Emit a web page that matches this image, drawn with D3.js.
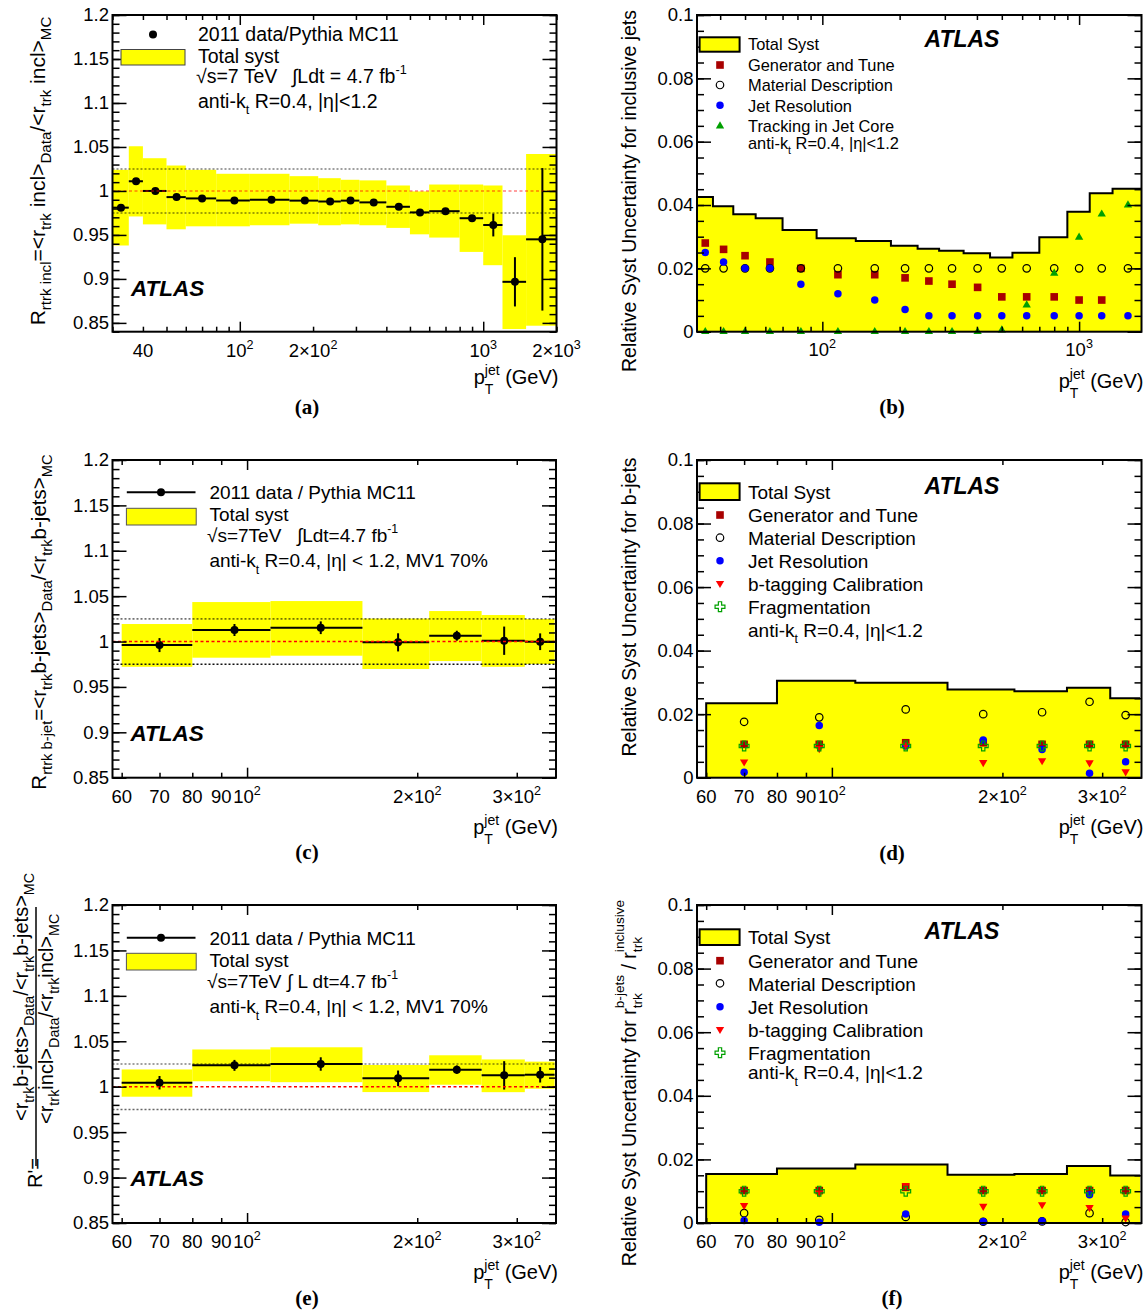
<!DOCTYPE html>
<html><head><meta charset="utf-8">
<script src="https://cdn.jsdelivr.net/npm/d3@7"></script>
<style>
body{margin:0;background:#fff;}
svg{display:block;}
text{white-space:pre;}
</style></head><body>
<svg id="c" width="1148" height="1314"></svg>
<script>
// ---------------- DATA ----------------
// Panel (a): inclusive jets ratio
const edgesA = [30,35,40,50,60,80,110,160,210,260,310,400,500,600,800,1000,1200,1500,2000];
const ptA = [32.5,37.5,45,55,70,95,135,185,235,285,355,450,550,700,900,1100,1350,1750];
const ratioA = [0.981,1.011,1.000,0.993,0.9915,0.989,0.990,0.989,0.988,0.989,0.987,0.982,0.9756,0.977,0.969,0.9613,0.8967,0.945];
const statA = [0.002,0.002,0.002,0.001,0.001,0.001,0.001,0.001,0.001,0.001,0.001,0.002,0.002,0.002,0.003,0.013,0.028,0.081];
const bandLoA = [0.938,0.971,0.962,0.9564,0.9598,0.9598,0.961,0.9628,0.961,0.962,0.961,0.958,0.9507,0.947,0.9307,0.9156,0.843,0.8468];
const bandHiA = [1.024,1.0508,1.0372,1.0289,1.024,1.0195,1.0195,1.0168,1.0145,1.0127,1.012,1.0062,0.9995,1.0073,1.0073,1.0062,0.9496,1.042];

// Panel (b): syst. for inclusive jets
const edgesB = [32.5,37.5,45,55,70,95,135,185,235,285,355,450,550,700,900,1100,1350,1750];
const ptB = [35,41.25,50,62.5,82.5,115,160,210,260,320,402.5,500,625,800,1000,1225,1550];
const totalB = [0.0425,0.0396,0.0371,0.0358,0.0321,0.0295,0.0286,0.0271,0.0262,0.0256,0.0248,0.0234,0.0249,0.0298,0.0379,0.0437,0.0451];
const genTuneB = [0.028,0.026,0.024,0.022,0.020,0.018,0.018,0.017,0.016,0.015,0.014,0.011,0.011,0.011,0.010,0.010,null];
const materialB = [0.02,0.02,0.02,0.02,0.02,0.02,0.02,0.02,0.02,0.02,0.02,0.02,0.02,0.02,0.02,0.02,0.02];
const jetResB = [0.025,0.022,0.020,0.020,0.015,0.012,0.010,0.007,0.005,0.005,0.005,0.005,0.005,0.005,0.005,0.005,0.005];
const trackCoreB = [0,0,0,0,0,0,0,0,0,0,0,0.0005,0.0084,0.0184,0.0298,0.0371,0.040];

// Panels (c)-(f): b-jets
const edgesBJ = [60,80,110,160,210,260,310,350];
const ptBJ = [70,95,135,185,235,285,330];

const ratioC = [0.9961,1.0127,1.0152,0.9991,1.0064,1.0009,0.9998];
const statC = [0.0077,0.0066,0.007,0.010,0.0055,0.0156,0.0092];
const bandLoC = [0.9722,0.9822,0.9844,0.9697,0.9785,0.9722,0.9752];
const bandHiC = [1.0193,1.0435,1.0446,1.0253,1.0336,1.0292,1.0248];

const totalD = [0.0234,0.0305,0.0299,0.0278,0.0272,0.0283,0.025];
const genTuneD = [0.0105,0.0105,0.011,0.011,0.0105,0.0105,0.0105];
const materialD = [0.0176,0.019,0.0215,0.020,0.0206,0.0239,0.0197];
const jetResD = [0.0017,0.0164,0.010,0.0119,0.0089,0.0014,0.005];
const bTagD = [0.005,0.0092,0.0103,0.0048,0.0054,0.0047,0.0019];
const fragD = [0.010,0.010,0.010,0.010,0.010,0.010,0.010];

const ratioE = [1.0044,1.0235,1.025,1.0092,1.0188,1.0125,1.0132];
const statE = [0.0074,0.006,0.0074,0.0086,0.0046,0.0156,0.0086];
const bandLoE = [0.989,1.006,1.005,0.9941,1.0022,0.994,0.9978];
const bandHiE = [1.019,1.041,1.0434,1.0239,1.0346,1.030,1.0276];

const totalF = [0.0154,0.0171,0.0184,0.0152,0.0154,0.0179,0.0149];
const genTuneF = [0.0102,0.0102,0.0112,0.0102,0.0102,0.0102,0.0102];
const materialF = [0.0031,0.001,0.0019,0.0004,0.0005,0.0031,0.0003];
const jetResF = [0.0008,0.0002,0.0028,0.0005,0.0006,0.0089,0.0028];
const bTagF = [0.0055,0.0095,0.0118,0.0053,0.0058,0.0049,0.0016];
const fragF = [0.010,0.010,0.010,0.010,0.010,0.010,0.010];

// Tick labels
const yTicksRatio = [0.85,0.9,0.95,1,1.05,1.1,1.15,1.2];
const yLabelsRatio = ["0.85","0.9","0.95","1","1.05","1.1","1.15","1.2"];
const yTicksSyst = [0,0.02,0.04,0.06,0.08,0.1];
const yLabelsSyst = ["0","0.02","0.04","0.06","0.08","0.1"];
const xTicksA = [40,100,200,1000,2000];
const xLabelsA = [["40"],["10",{sup:"2"}],["2×10",{sup:"2"}],["10",{sup:"3"}],["2×10",{sup:"3"}]];
const xTicksB = [100,1000];
const xLabelsB = [["10",{sup:"2"}],["10",{sup:"3"}]];
const xTicksBJ = [60,70,80,90,100,200,300];
const xLabelsBJ = [["60"],["70"],["80"],["90"],["10",{sup:"2"}],["2×10",{sup:"2"}],["3×10",{sup:"2"}]];

// ---------------- DRAWING ----------------
const FONT = '"Liberation Sans", Arial, Helvetica, sans-serif';
const SERIF = '"Liberation Serif", "Times New Roman", serif';
const YEL = '#ffff00';
const svg = d3.select('#c');
svg.append('rect').attr('width',1148).attr('height',1314).attr('fill','#fff');

function rich(parent, segs, o) {
  const size = o.size, ss = o.subScale || 0.7;
  const outer = parent.append('g').attr('transform', `translate(${o.x},${o.y})` + (o.rotate ? ` rotate(${o.rotate})` : ''));
  const inner = outer.append('g');
  let x = 0;
  const mk = (txt, xx, yy, fs) => inner.append('text').attr('x', xx).attr('y', yy)
      .attr('font-size', fs).attr('font-family', o.family || FONT)
      .attr('font-weight', o.weight || null).attr('font-style', o.style || null)
      .attr('fill', o.fill || '#000').text(txt);
  segs.forEach(s => {
    if (typeof s === 'string') { const t = mk(s, x, 0, size); x += t.node().getComputedTextLength(); }
    else {
      let w = 0;
      if (s.sup != null) { const t = mk(s.sup, x, -size*(o.supShift||0.45), size*ss); w = Math.max(w, t.node().getComputedTextLength()); }
      if (s.sub != null) { const t = mk(s.sub, x, size*(o.subShift||0.3), size*ss); w = Math.max(w, t.node().getComputedTextLength()); }
      x += w + (o.gap || 0);
    }
  });
  const dx = o.anchor === 'middle' ? -x/2 : o.anchor === 'end' ? -x : 0;
  inner.attr('transform', `translate(${dx},0)`);
  return x;
}

const symGen = d3.symbol().type(d3.symbolSquare).size(58);
const symCirc = d3.symbol().type(d3.symbolCircle).size(44);
const symTri = d3.symbol().type(d3.symbolTriangle).size(30);
const symCross = d3.symbol().type(d3.symbolCross).size(54);
const MK = {
  gen:   (g,cx,cy) => g.append('path').attr('d', symGen()).attr('transform',`translate(${cx},${cy})`).attr('fill','#a80000'),
  mat:   (g,cx,cy) => g.append('path').attr('d', symCirc()).attr('transform',`translate(${cx},${cy})`).attr('fill','none').attr('stroke','#000').attr('stroke-width',1.2),
  jet:   (g,cx,cy) => g.append('path').attr('d', symCirc()).attr('transform',`translate(${cx},${cy})`).attr('fill','#0000ff'),
  track: (g,cx,cy) => g.append('path').attr('d', symTri()).attr('transform',`translate(${cx},${cy})`).attr('fill','#00a000'),
  btag:  (g,cx,cy) => g.append('path').attr('d', symTri()).attr('transform',`translate(${cx},${cy}) rotate(180)`).attr('fill','#ff0000'),
  frag:  (g,cx,cy) => g.append('path').attr('d', symCross()).attr('transform',`translate(${cx},${cy})`).attr('fill','none').attr('stroke','#00a000').attr('stroke-width',1.2),
};

function makePanel(P) {
  const g = svg.append('g');
  const x = d3.scaleLog().domain(P.xDomain).range([P.x0, P.x1]);
  const y = d3.scaleLinear().domain(P.yDomain).range([P.y1, P.y0]);
  P.draw(g, x, y);

  // ticks
  const allX = x.ticks();
  const isMaj = v => Math.abs(Math.log10(v) - Math.round(Math.log10(v))) < 1e-9;
  const majX = allX.filter(isMaj), minX = allX.filter(v => !isMaj(v));
  const tk = g.append('g');
  const addAx = (axis, tr) => { const a = tk.append('g').attr('transform', tr).call(axis); a.select('.domain').remove(); a.selectAll('line').attr('stroke','#000').attr('stroke-width',1.5); };
  addAx(d3.axisBottom(x).tickValues(majX).tickSize(-10).tickFormat(''), `translate(0,${P.y1})`);
  addAx(d3.axisBottom(x).tickValues(minX).tickSize(-5).tickFormat(''), `translate(0,${P.y1})`);
  addAx(d3.axisTop(x).tickValues(majX).tickSize(-10).tickFormat(''), `translate(0,${P.y0})`);
  addAx(d3.axisTop(x).tickValues(minX).tickSize(-5).tickFormat(''), `translate(0,${P.y0})`);
  addAx(d3.axisLeft(y).tickValues(P.yMajor).tickSize(-14).tickFormat(''), `translate(${P.x0},0)`);
  addAx(d3.axisLeft(y).tickValues(P.yMinor).tickSize(-7).tickFormat(''), `translate(${P.x0},0)`);
  addAx(d3.axisRight(y).tickValues(P.yMajor).tickSize(-14).tickFormat(''), `translate(${P.x1},0)`);
  addAx(d3.axisRight(y).tickValues(P.yMinor).tickSize(-7).tickFormat(''), `translate(${P.x1},0)`);
  // y labels
  const yl = g.append('g').attr('transform',`translate(${P.x0},0)`)
    .call(d3.axisLeft(y).tickValues(P.yMajor).tickSize(0).tickPadding(3.5).tickFormat((d,i)=>P.yLabels[i]));
  yl.select('.domain').remove();
  yl.attr('font-family', FONT).attr('font-size', 18.5);
  yl.selectAll('text').attr('fill','#000');
  // x labels
  P.xTicks.forEach((v,i) => rich(g, P.xLabels[i], {x: x(v), y: P.xLabY, size: 18.5, anchor:'middle', supShift:0.45, subScale:0.68}));
  // frame
  g.append('rect').attr('x',P.x0).attr('y',P.y0).attr('width',P.x1-P.x0).attr('height',P.y1-P.y0)
    .attr('fill','none').attr('stroke','#000').attr('stroke-width',2);
  // x title
  rich(g, ["p",{sub:"T",sup:"jet"}," (GeV)"], {x: P.x1+2, y: P.xTitY, size: 20, anchor:'end', subShift:0.5, supShift:0.45, subScale:0.7});
  // panel label
  g.append('text').attr('x', P.labX).attr('y', P.labY).attr('text-anchor','middle')
    .attr('font-family', SERIF).attr('font-weight','bold').attr('font-size',21).text(P.label);
  return {g, x, y};
}

function ratioDraw(edges, pts, ratio, stat, lo, hi, redOpacity, upperCol, lowerCol) {
  return (g, x, y) => {
    g.append('g').selectAll('rect').data(ratio).join('rect')
      .attr('x', (d,i) => x(edges[i])).attr('width', (d,i) => x(edges[i+1]) - x(edges[i]))
      .attr('y', (d,i) => y(hi[i])).attr('height', (d,i) => y(lo[i]) - y(hi[i])).attr('fill', YEL);
    const xr = x.range();
    g.append('line').attr('x1', xr[0]).attr('x2', xr[1]).attr('y1', y(1.025)).attr('y2', y(1.025))
      .attr('stroke', upperCol).attr('stroke-width',1.6).attr('stroke-dasharray','2,2');
    g.append('line').attr('x1', xr[0]).attr('x2', xr[1]).attr('y1', y(0.975)).attr('y2', y(0.975))
      .attr('stroke', lowerCol).attr('stroke-width',1.6).attr('stroke-dasharray','2,2');
    const pg = g.append('g');
    ratio.forEach((r,i) => {
      pg.append('line').attr('x1', x(edges[i])).attr('x2', x(edges[i+1])).attr('y1', y(r)).attr('y2', y(r)).attr('stroke','#000').attr('stroke-width',2);
      pg.append('line').attr('x1', x(pts[i])).attr('x2', x(pts[i])).attr('y1', y(r-stat[i])).attr('y2', y(r+stat[i])).attr('stroke','#000').attr('stroke-width',2);
      pg.append('circle').attr('cx', x(pts[i])).attr('cy', y(r)).attr('r', 4).attr('fill','#000');
    });
    g.append('line').attr('x1', xr[0]).attr('x2', xr[1]).attr('y1', y(1)).attr('y2', y(1))
      .attr('stroke', '#ff0000').attr('stroke-opacity', redOpacity).attr('stroke-width',1.6).attr('stroke-dasharray','3,2.5');
  };
}

function systDraw(edges, pts, total, series) {
  return (g, x, y) => {
    const n = total.length;
    const hd = edges.map((e,i) => ({e, v: total[Math.min(i, n-1)]}));
    g.append('path').datum(hd).attr('fill', YEL)
      .attr('d', d3.area().x(d=>x(d.e)).y0(y(0)).y1(d=>y(d.v)).curve(d3.curveStepAfter));
    const ld = [{e: edges[0], v: 0}].concat(hd);
    g.append('path').datum(ld).attr('fill','none').attr('stroke','#000').attr('stroke-width',2)
      .attr('d', d3.line().x(d=>x(d.e)).y(d=>y(d.v)).curve(d3.curveStepAfter));
    series.forEach(([key, vals]) => {
      vals.forEach((v,i) => { if (v != null) MK[key](g, x(pts[i]), y(v)); });
    });
  };
}

const ratioMinor = d3.range(85, 121).map(v => v/100);
const ratioMinorA = d3.range(84, 121).map(v => v/100);
const systMinor = d3.range(0, 21).map(v => v*0.005);

// ---- Panel (a)
makePanel({x0:112.5, x1:556.5, y0:15, y1:331.7, xDomain:[30,2000], yDomain:[0.84,1.2],
  yMajor: yTicksRatio, yLabels: yLabelsRatio, yMinor: ratioMinorA,
  xTicks: xTicksA, xLabels: xLabelsA, xLabY: 357, xTitY: 384, label:'(a)', labX:307, labY:414,
  draw: ratioDraw(edgesA, ptA, ratioA, statA, bandLoA, bandHiA, 0.5, 'rgba(0,0,0,0.5)', 'rgba(0,0,0,0.5)')});
// ---- Panel (b)
makePanel({x0:697, x1:1141.5, y0:15, y1:331.7, xDomain:[32.5,1750], yDomain:[0,0.1],
  yMajor: yTicksSyst, yLabels: yLabelsSyst, yMinor: systMinor,
  xTicks: xTicksB, xLabels: xLabelsB, xLabY: 356, xTitY: 388, label:'(b)', labX:892, labY:414,
  draw: systDraw(edgesB, ptB, totalB, [['gen',genTuneB],['mat',materialB],['jet',jetResB],['track',trackCoreB]])});
// ---- Panel (c)
makePanel({x0:112.5, x1:556, y0:460, y1:777.7, xDomain:[57.8,352], yDomain:[0.85,1.2],
  yMajor: yTicksRatio, yLabels: yLabelsRatio, yMinor: ratioMinor,
  xTicks: xTicksBJ, xLabels: xLabelsBJ, xLabY: 803, xTitY: 834, label:'(c)', labX:307, labY:859,
  draw: ratioDraw(edgesBJ, ptBJ, ratioC, statC, bandLoC, bandHiC, 1, 'rgba(0,0,0,0.55)', '#111')});
// ---- Panel (d)
makePanel({x0:697, x1:1141.5, y0:460, y1:777.7, xDomain:[57.8,352], yDomain:[0,0.1],
  yMajor: yTicksSyst, yLabels: yLabelsSyst, yMinor: systMinor,
  xTicks: xTicksBJ, xLabels: xLabelsBJ, xLabY: 803, xTitY: 834, label:'(d)', labX:892, labY:860,
  draw: systDraw(edgesBJ, ptBJ, totalD, [['gen',genTuneD],['mat',materialD],['jet',jetResD],['btag',bTagD],['frag',fragD]])});
// ---- Panel (e)
makePanel({x0:112.5, x1:556, y0:905, y1:1223, xDomain:[57.8,352], yDomain:[0.85,1.2],
  yMajor: yTicksRatio, yLabels: yLabelsRatio, yMinor: ratioMinor,
  xTicks: xTicksBJ, xLabels: xLabelsBJ, xLabY: 1248, xTitY: 1279, label:'(e)', labX:307, labY:1305,
  draw: ratioDraw(edgesBJ, ptBJ, ratioE, statE, bandLoE, bandHiE, 1, 'rgba(0,0,0,0.5)', 'rgba(0,0,0,0.6)')});
// ---- Panel (f)
makePanel({x0:697, x1:1141.5, y0:905, y1:1223, xDomain:[57.8,352], yDomain:[0,0.1],
  yMajor: yTicksSyst, yLabels: yLabelsSyst, yMinor: systMinor,
  xTicks: xTicksBJ, xLabels: xLabelsBJ, xLabY: 1248, xTitY: 1279, label:'(f)', labX:892, labY:1305,
  draw: systDraw(edgesBJ, ptBJ, totalF, [['gen',genTuneF],['mat',materialF],['jet',jetResF],['btag',bTagF],['frag',fragF]])});

// ---------------- LEGENDS & LABELS ----------------
const L = svg.append('g');
function txt(x, y, s, size, extra) {
  const t = L.append('text').attr('x', x).attr('y', y).attr('font-family', FONT).attr('font-size', size).text(s);
  if (extra) extra(t);
  return t;
}
const atlas = (x, y, size) => txt(x, y, 'ATLAS', size, t => t.attr('font-weight','bold').attr('font-style','italic'));
const antik = (x, y, size, rest) => rich(L, ["anti-k",{sub:"t"}, rest], {x, y, size, subShift:0.35, subScale:0.65});

// (a)
L.append('circle').attr('cx',153).attr('cy',34.5).attr('r',4).attr('fill','#000');
txt(198, 41, '2011 data/Pythia MC11', 19.5);
L.append('rect').attr('x',121).attr('y',49.5).attr('width',64).attr('height',15.5).attr('fill',YEL).attr('stroke','#444').attr('stroke-width',1);
txt(198, 62.5, 'Total syst', 19.5);
txt(196, 83, '√s=7 TeV', 19.5);
rich(L, ["∫Ldt = 4.7 fb",{sup:"-1"}], {x:292, y:83, size:19.5, supShift:0.45, subScale:0.65});
antik(198, 107.5, 19.5, " R=0.4, |η|<1.2");
atlas(131, 296, 22.5);

// (b)
L.append('rect').attr('x',699.6).attr('y',37.3).attr('width',40).attr('height',14.4).attr('fill',YEL).attr('stroke','#000').attr('stroke-width',2);
txt(748, 49.5, 'Total Syst', 16.4);
MK.gen(L, 720, 65); txt(748, 71, 'Generator and Tune', 16.4);
MK.mat(L, 720, 85); txt(748, 91, 'Material Description', 16.4);
MK.jet(L, 720, 105.3); txt(748, 111.5, 'Jet Resolution', 16.4);
MK.track(L, 720, 126); txt(748, 132, 'Tracking in Jet Core', 16.4);
antik(748, 148.5, 16.4, " R=0.4, |η|<1.2");
atlas(924.5, 47, 23);

// (c)
L.append('line').attr('x1',126.8).attr('x2',195.5).attr('y1',492.3).attr('y2',492.3).attr('stroke','#000').attr('stroke-width',2);
L.append('circle').attr('cx',161).attr('cy',492.3).attr('r',4).attr('fill','#000');
txt(209.4, 499, '2011 data / Pythia MC11', 19);
L.append('rect').attr('x',126.4).attr('y',508.3).attr('width',69.8).attr('height',16.7).attr('fill',YEL).attr('stroke','#555').attr('stroke-width',1);
txt(209.4, 521, 'Total syst', 19);
txt(207, 541.5, '√s=7TeV', 19);
rich(L, ["∫Ldt=4.7 fb",{sup:"-1"}], {x:297, y:541.5, size:19, supShift:0.45, subScale:0.65});
antik(209.4, 567, 19, " R=0.4, |η| < 1.2, MV1 70%");
atlas(130.5, 741, 22.5);

// (d)
L.append('rect').attr('x',699.6).attr('y',483.3).attr('width',40).attr('height',16.7).attr('fill',YEL).attr('stroke','#000').attr('stroke-width',2);
txt(748, 499, 'Total Syst', 19);
MK.gen(L, 720, 515); txt(748, 522, 'Generator and Tune', 19);
MK.mat(L, 720, 537.7); txt(748, 545, 'Material Description', 19);
MK.jet(L, 720, 560.7); txt(748, 568, 'Jet Resolution', 19);
MK.btag(L, 720, 583.3); txt(748, 590.5, 'b-tagging Calibration', 19);
MK.frag(L, 720, 606.7); txt(748, 613.5, 'Fragmentation', 19);
antik(748, 636.5, 19, " R=0.4, |η|<1.2");
atlas(924.5, 494, 23);

// (e)
L.append('line').attr('x1',126.8).attr('x2',195.5).attr('y1',937.7).attr('y2',937.7).attr('stroke','#000').attr('stroke-width',2);
L.append('circle').attr('cx',161).attr('cy',937.7).attr('r',4).attr('fill','#000');
txt(209.4, 945, '2011 data / Pythia MC11', 19);
L.append('rect').attr('x',126.4).attr('y',953.3).attr('width',69.8).attr('height',16.7).attr('fill',YEL).attr('stroke','#555').attr('stroke-width',1);
txt(209.4, 967, 'Total syst', 19);
txt(207, 987.5, '√s=7TeV', 19);
rich(L, ["∫ L dt=4.7 fb",{sup:"-1"}], {x:287, y:987.5, size:19, supShift:0.45, subScale:0.65});
antik(209.4, 1013, 19, " R=0.4, |η| < 1.2, MV1 70%");
atlas(130.5, 1186, 22.5);

// (f)
L.append('rect').attr('x',699.6).attr('y',929.3).attr('width',40).attr('height',15.7).attr('fill',YEL).attr('stroke','#000').attr('stroke-width',2);
txt(748, 944, 'Total Syst', 19);
MK.gen(L, 720, 960.7); txt(748, 967.5, 'Generator and Tune', 19);
MK.mat(L, 720, 983.3); txt(748, 990.5, 'Material Description', 19);
MK.jet(L, 720, 1006.7); txt(748, 1014, 'Jet Resolution', 19);
MK.btag(L, 720, 1029.3); txt(748, 1036.5, 'b-tagging Calibration', 19);
MK.frag(L, 720, 1052.7); txt(748, 1059.5, 'Fragmentation', 19);
antik(748, 1079, 19, " R=0.4, |η|<1.2");
atlas(924.5, 939, 23);

// ---------------- Y-AXIS TITLES ----------------
rich(L, ["R",{sub:"rtrk incl"},"=<r",{sub:"trk"}," incl>",{sub:"Data"},"/<r",{sub:"trk"}," incl>",{sub:"MC"}],
  {x:45, y:171, size:21, rotate:-90, anchor:'middle', subShift:0.3, subScale:0.72});
rich(L, ["R",{sub:"rtrk b-jet"},"=<r",{sub:"trk"},"b-jets>",{sub:"Data"},"/<r",{sub:"trk"},"b-jets>",{sub:"MC"}],
  {x:46, y:622, size:20.5, rotate:-90, anchor:'middle', subShift:0.3, subScale:0.72});
rich(L, ["Relative Syst Uncertainty for inclusive jets"], {x:635.5, y:191, size:19.5, rotate:-90, anchor:'middle'});
rich(L, ["Relative Syst Uncertainty for b-jets"], {x:635.5, y:607, size:19.5, rotate:-90, anchor:'middle'});
rich(L, ["Relative Syst Uncertainty for r",{sub:"trk",sup:"b-jets"}," / r",{sub:"trk",sup:"inclusive"}],
  {x:636, y:1083, size:19.5, rotate:-90, anchor:'middle', subShift:0.3, supShift:0.6, subScale:0.7});
// (e) fraction title
rich(L, ["R'="], {x:41.5, y:1188, size:20, rotate:-90});
L.append('line').attr('x1',36).attr('x2',36).attr('y1',907).attr('y2',1166).attr('stroke','#000').attr('stroke-width',1.5);
rich(L, ["<r",{sub:"trk"},"b-jets>",{sub:"Data"},"/<r",{sub:"trk"},"b-jets>",{sub:"MC"}],
  {x:28, y:1121, size:20, rotate:-90, subShift:0.3, subScale:0.72});
rich(L, ["<r",{sub:"trk"},"incl>",{sub:"Data"},"/<r",{sub:"trk"},"incl>",{sub:"MC"}],
  {x:53, y:1124, size:20, rotate:-90, subShift:0.3, subScale:0.72});
</script>
</body></html>
